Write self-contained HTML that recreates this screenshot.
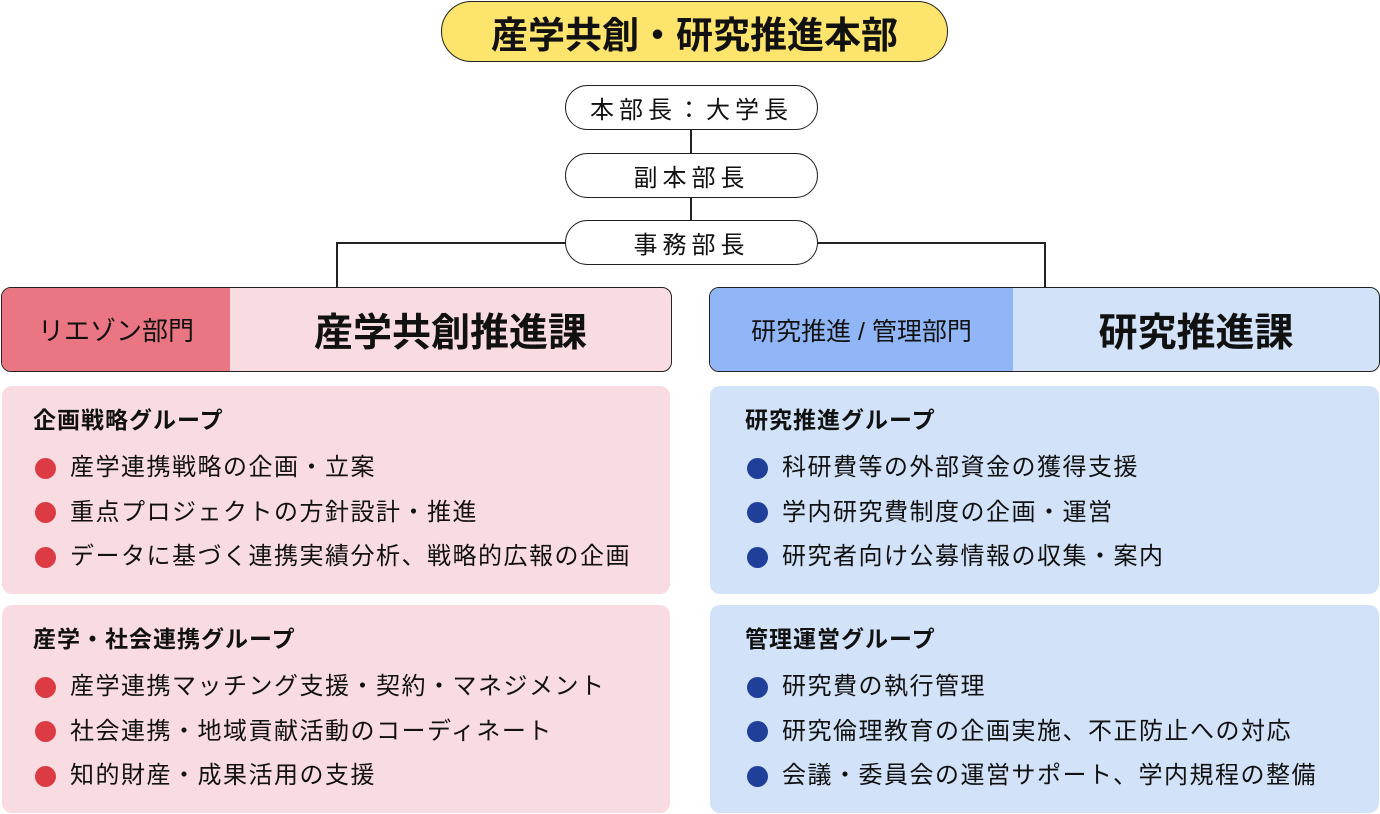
<!DOCTYPE html>
<html><head><meta charset="utf-8"><style>
*{margin:0;padding:0;box-sizing:border-box}
body{width:1380px;height:814px;background:#fff;position:relative;font-family:"Liberation Sans","Noto Sans CJK JP",sans-serif;color:#111;overflow:hidden}
.a{position:absolute}
.pill{position:absolute;border:1.5px solid #222;border-radius:25px;background:#fff;display:flex;align-items:center;justify-content:center;font-size:24px;letter-spacing:5px}
.ln{position:absolute;background:#222}
.hdr{position:absolute;border:1.5px solid #222;border-radius:10px;overflow:hidden;display:flex}
.grp{position:absolute;border-radius:10px;padding:17px 0 0 31px}
.grp h3{font-size:23px;font-weight:bold;height:43px;line-height:34px;letter-spacing:1px}
.grp p{font-size:24px;height:44.5px;line-height:34px;letter-spacing:1.5px;display:flex;align-items:center}
.grp p i{display:inline-block;width:21px;height:21px;border-radius:50%;margin:0 14px 0 2px}
.pk{background:#f9dce1}.pk i{background:#dc3b44}
.bl{background:#d2e2f8}.bl i{background:#1f3f98}
</style></head><body>
<div class="a" style="left:441px;top:1px;width:507px;height:61px;border:1.5px solid #222;border-radius:31px;background:#fde46c;display:flex;align-items:center;justify-content:center;font-size:37px;font-weight:bold">産学共創・研究推進本部</div>
<div class="ln" style="left:690px;top:130px;width:1.5px;height:92px"></div>
<div class="ln" style="left:336px;top:242px;width:710px;height:1.5px"></div>
<div class="ln" style="left:336px;top:242px;width:1.5px;height:46px"></div>
<div class="ln" style="left:1044px;top:242px;width:1.5px;height:46px"></div>
<div class="pill" style="left:565px;top:85px;width:253px;height:45px">本部長：大学長</div>
<div class="pill" style="left:565px;top:153px;width:253px;height:45px">副本部長</div>
<div class="pill" style="left:565px;top:220px;width:253px;height:45px">事務部長</div>
<div class="hdr" style="left:1px;top:287px;width:671px;height:85px;background:#f9dce1">
<div style="width:228px;background:#e97682;display:flex;align-items:center;justify-content:center;font-size:26px">リエゾン部門</div>
<div style="flex:1;display:flex;align-items:center;justify-content:center;font-size:39px;font-weight:bold">産学共創推進課</div></div>
<div class="hdr" style="left:709px;top:287px;width:671px;height:85px;background:#d2e2f8">
<div style="width:303px;background:#90b6f7;display:flex;align-items:center;justify-content:center;font-size:25px">研究推進 / 管理部門</div>
<div style="flex:1;display:flex;align-items:center;justify-content:center;font-size:39px;font-weight:bold">研究推進課</div></div>
<div class="grp pk" style="left:2px;top:386px;width:668px;height:208px"><h3>企画戦略グループ</h3><p><i></i>産学連携戦略の企画・立案</p><p><i></i>重点プロジェクトの方針設計・推進</p><p><i></i>データに基づく連携実績分析、戦略的広報の企画</p></div>
<div class="grp pk" style="left:2px;top:605px;width:668px;height:208px"><h3>産学・社会連携グループ</h3><p><i></i>産学連携マッチング支援・契約・マネジメント</p><p><i></i>社会連携・地域貢献活動のコーディネート</p><p><i></i>知的財産・成果活用の支援</p></div>
<div class="grp bl" style="left:710px;top:386px;width:669px;height:208px;padding-left:35px"><h3>研究推進グループ</h3><p><i></i>科研費等の外部資金の獲得支援</p><p><i></i>学内研究費制度の企画・運営</p><p><i></i>研究者向け公募情報の収集・案内</p></div>
<div class="grp bl" style="left:710px;top:605px;width:669px;height:208px;padding-left:35px"><h3>管理運営グループ</h3><p><i></i>研究費の執行管理</p><p><i></i>研究倫理教育の企画実施、不正防止への対応</p><p><i></i>会議・委員会の運営サポート、学内規程の整備</p></div>
</body></html>
